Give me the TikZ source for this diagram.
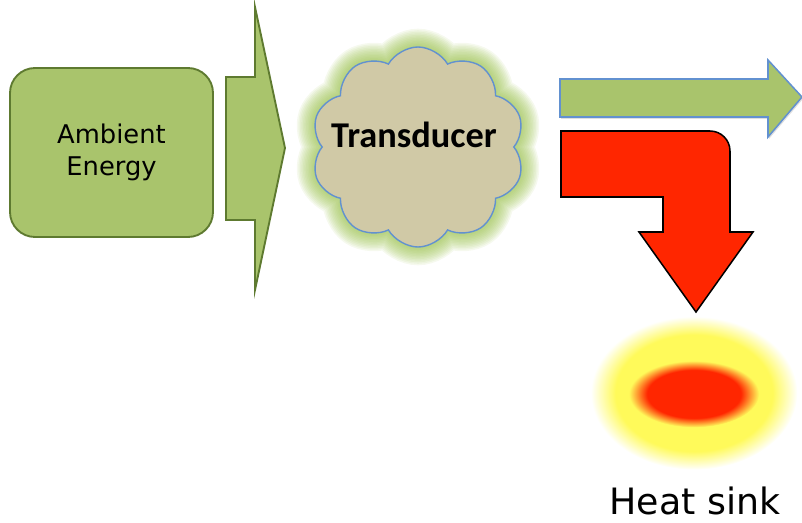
\documentclass[tikz,border=0pt]{standalone}
\usepackage{fontspec}
\setmainfont{DejaVu Sans}
\newfontfamily\calfont{Carlito}
\usepackage{tikz}
\usetikzlibrary{shapes.symbols, shadows}
\usepackage{xcolor}
\definecolor{leafgreen}{RGB}{169,196,108}
\definecolor{olive}{RGB}{94,122,48}
\definecolor{sky}{RGB}{98,145,208}
\definecolor{sand}{RGB}{208,201,166}
\definecolor{glowgreen}{RGB}{150,190,70}
\definecolor{hotred}{RGB}{255,38,0}
\definecolor{sunyellow}{RGB}{255,250,90}
\pgfdeclareradialshading{sinkglow}{\pgfpoint{0bp}{0bp}}{%
  color(0bp)=(sunyellow); color(19bp)=(sunyellow); color(25bp)=(white); color(50bp)=(white)}
\pgfdeclareradialshading{sinkcore}{\pgfpoint{0bp}{0bp}}{%
  color(0bp)=(hotred); color(18bp)=(hotred); color(25bp)=(sunyellow); color(50bp)=(sunyellow)}

\begin{document}
\begin{tikzpicture}[x=0.03cm, y=-0.03cm, thick]
\useasboundingbox (0,0) rectangle (802,522);
% ---------------- source (left) ----------------
\begin{scope}
  \node[rectangle, draw=olive, fill=leafgreen, line width=1.6pt,
        rounded corners=0.75cm, minimum width=6.09cm, minimum height=5.07cm,
        align=center, font=\fontsize{22}{27}\selectfont] (ambient) at (111.5,152.5)
        {Ambient\\ Energy};
  % big chevron
  \draw[draw=olive, fill=leafgreen, line width=1.6pt]
    (226,77) -- (255,77) -- (255,7) -- (285,148) -- (255,290)
    -- (255,220) -- (226,220) -- cycle;
\end{scope}
% ---------------- transducer (middle) ----------------
\begin{scope}
  \foreach \i in {1,...,12}
    \node[cloud, cloud puffs=10, cloud puff arc=120, aspect=1.05,
          minimum width=6.4cm, minimum height=6.0cm, draw=glowgreen,
          line width=\i*2.6pt, draw opacity=0.09] (glow\i) at (418,147) {};
  \node[cloud, cloud puffs=10, cloud puff arc=120, aspect=1.05,
        minimum width=6.4cm, minimum height=6.0cm, draw=sky, fill=sand,
        line width=1.2pt] (transducer) at (418,147) {};
  \node[font=\calfont\bfseries\fontsize{31}{36}\selectfont, anchor=base]
        (transtext) at (414,147) {Transducer};
\end{scope}
% ---------------- outputs (right) ----------------
\begin{scope}
  % useful energy
  \draw[draw=sky, fill=leafgreen, line width=1.3pt,
        drop shadow={opacity=0.25, shadow xshift=1pt, shadow yshift=-1.5pt}]
    (560,79) -- (768,79) -- (768,60) -- (802,97) -- (768,137)
    -- (768,117) -- (560,117) -- cycle;
  % waste heat
  \draw[draw=black, fill=hotred, line width=1.3pt]
    (561,131) -- (710,131) arc[start angle=90, end angle=0, radius=0.6cm]
    -- (730,232) -- (753,232) -- (696,312) -- (639,232) -- (663,232)
    -- (663,197) -- (561,197) -- cycle;
  % heat sink blob
  \shade[shading=sinkglow] (694,393) ellipse [x radius=3.1cm, y radius=2.3cm];
  \shade[shading=sinkcore] (694,394) ellipse [x radius=1.95cm, y radius=1.0cm];
  \coordinate (sink) at (694,393);
  \node[anchor=base, font=\fontsize{31}{36}\selectfont] (sinklabel) at (695,514)
    {Heat sink};
\end{scope}
\end{tikzpicture}
\end{document}
